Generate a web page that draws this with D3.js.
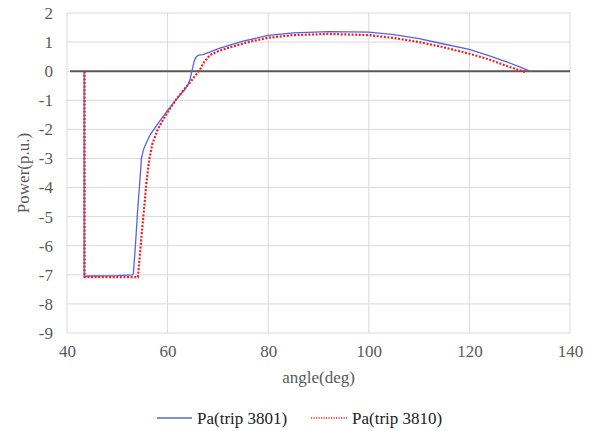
<!DOCTYPE html>
<html><head><meta charset="utf-8">
<script src="https://cdn.jsdelivr.net/npm/d3@7"></script>
<style>body{margin:0;background:#fff}svg{display:block}</style>
</head><body>
<script>
const xTicks = [40, 60, 80, 100, 120, 140];
const yTicks = [2, 1, 0, -1, -2, -3, -4, -5, -6, -7, -8, -9];
const seriesNames = ["Pa(trip 3801)", "Pa(trip 3810)"];
const blueAngle = [43.4,43.4,45,50,53.0,53.2,53.6,54.0,54.2,54.5,54.8,55.2,55.8,56.5,57.2,58.5,60.1,61.5,62.5,63.4,64.1,64.5,64.9,65.3,65.7,66.2,67.0,67.8,70.4,75,80,85,92,100,105,110,114.2,120,124,127.4,130,132];
const bluePower = [0,-7.05,-7.04,-7.03,-7.0,-6.95,-6.0,-4.9,-4.43,-3.74,-3.0,-2.7,-2.45,-2.2,-2.02,-1.7,-1.33,-1.02,-0.82,-0.64,-0.45,-0.25,0.05,0.35,0.5,0.55,0.57,0.62,0.79,1.03,1.23,1.32,1.36,1.34,1.26,1.12,0.96,0.75,0.53,0.32,0.15,0.0];
const redAngle = [43.5,43.5,50,54.1,54.4,54.9,55.4,55.8,56.4,57.0,58.0,59.0,60.3,61.5,63.0,64.5,65.5,66.4,67.2,68.4,69.8,72,76,80,85,92,100,105,110,114.2,120,124,127.4,130,131.4];
const redPower = [0,-7.08,-7.08,-7.08,-6.5,-5.5,-4.6,-3.8,-3.0,-2.48,-2.02,-1.7,-1.33,-1.02,-0.68,-0.38,-0.15,0.04,0.3,0.55,0.67,0.8,1.0,1.15,1.24,1.28,1.24,1.14,1.0,0.85,0.6,0.4,0.18,0.03,-0.04];
const zeroAngle = [40.6, 140];
const zeroPower = [0, 0];

const W = 592, H = 431;
const FONT = "'Liberation Serif', 'DejaVu Serif', serif";
const svg = d3.select("body").append("svg").attr("width", W).attr("height", H);
const x = d3.scaleLinear().domain([40, 140]).range([67, 570]);
const y = d3.scaleLinear().domain([-9, 2]).range([333, 13]);

svg.append("g").selectAll("line").data(yTicks).join("line")
  .attr("x1", x(40)).attr("x2", x(140)).attr("y1", d => y(d)).attr("y2", d => y(d))
  .attr("stroke", "#d9d9d9").attr("stroke-width", 1);
svg.append("g").selectAll("line").data(xTicks).join("line")
  .attr("y1", y(-9)).attr("y2", y(2)).attr("x1", d => x(d)).attr("x2", d => x(d))
  .attr("stroke", "#d9d9d9").attr("stroke-width", 1);

const yAxis = svg.append("g").attr("transform", `translate(${x(40)},0)`)
  .call(d3.axisLeft(y).tickValues(yTicks).tickSize(0).tickPadding(14).tickFormat(d => String(d)));
yAxis.select(".domain").remove();
const xAxis = svg.append("g").attr("transform", `translate(0,${y(-9)})`)
  .call(d3.axisBottom(x).tickValues(xTicks).tickSize(0).tickPadding(12).tickFormat(d => String(d)));
xAxis.select(".domain").remove();
[yAxis, xAxis].forEach(g => g.selectAll("text")
  .style("font-family", FONT).style("font-size", "17px").style("fill", "#595959"));

const line = d3.line().x(d => x(d[0])).y(d => y(d[1]));
svg.append("path").datum(zeroAngle.map((a, i) => [a, zeroPower[i]]))
  .attr("d", line).attr("fill", "none").attr("stroke", "#595959").attr("stroke-width", 2);
svg.append("path").datum(blueAngle.map((a, i) => [a, bluePower[i]]))
  .attr("d", line).attr("fill", "none").attr("stroke", "#5563e6").attr("stroke-width", 1.3);
svg.append("path").datum(redAngle.map((a, i) => [a, redPower[i]]))
  .attr("d", line).attr("fill", "none").attr("stroke", "#f01e1e").attr("stroke-width", 2.2)
  .attr("stroke-dasharray", "2,1.6");

function txt(sel) { return sel.style("font-family", FONT).style("font-size", "17px"); }
txt(svg.append("text")).attr("x", (x(40) + x(140)) / 2).attr("y", 383).attr("text-anchor", "middle")
  .style("fill", "#595959").text("angle(deg)");
txt(svg.append("text")).attr("transform", `translate(29,${(y(2) + y(-9)) / 2}) rotate(-90)`)
  .attr("text-anchor", "middle").style("fill", "#595959").text("Power(p.u.)");

const lg = svg.append("g");
lg.append("line").attr("x1", 157).attr("x2", 192).attr("y1", 418).attr("y2", 418)
  .attr("stroke", "#5563e6").attr("stroke-width", 1.3);
txt(lg.append("text")).attr("x", 197).attr("y", 424).style("fill", "#222").text(seriesNames[0]);
lg.append("line").attr("x1", 311).attr("x2", 347).attr("y1", 418).attr("y2", 418)
  .attr("stroke", "#f01e1e").attr("stroke-width", 1.5).attr("stroke-dasharray", "1.2,1.3");
txt(lg.append("text")).attr("x", 352).attr("y", 424).style("fill", "#222").text(seriesNames[1]);
</script>
</body></html>
